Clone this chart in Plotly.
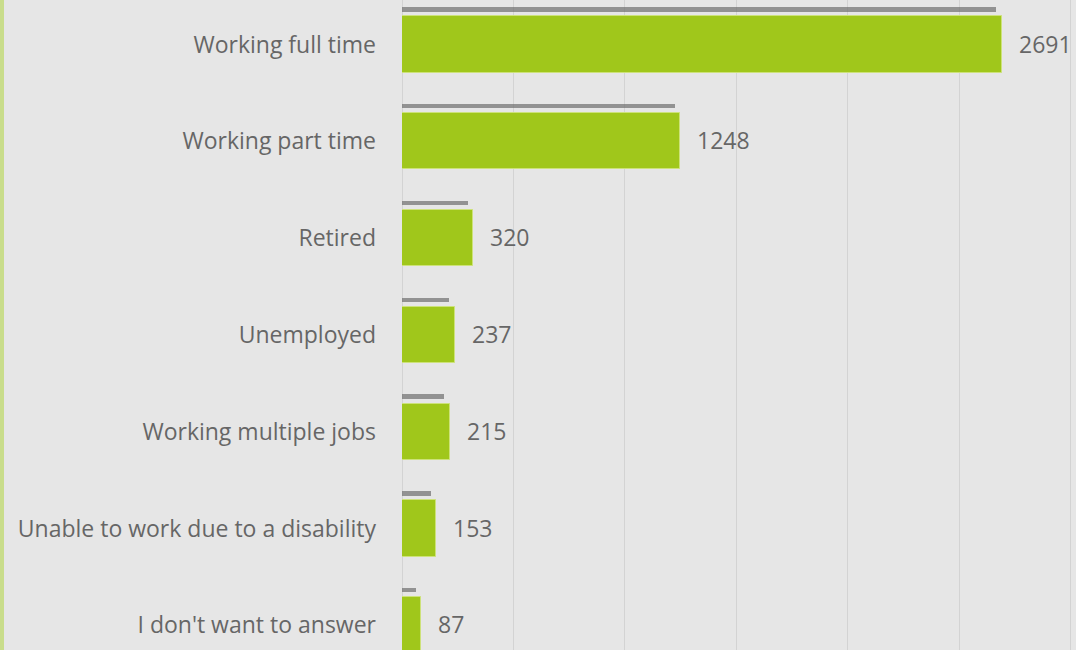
import plotly.graph_objects as go

# Employment status of respondents
categories = [
    "Working full time",
    "Working part time",
    "Retired",
    "Unemployed",
    "Working multiple jobs",
    "Unable to work due to a disability",
    "I don't want to answer",
]
counts = [2691, 1248, 320, 237, 215, 153, 87]

W, H = 1076, 650
LEFT = 402
plot_w = W - LEFT
x_max = 3025

bar_green = "#a0c71b"
text_grey = "#666666"
bg = "#e6e6e6"
font_family = "Open Sans, Lato, sans-serif"

# thin drop-shadow strip sitting above each bar
shadow_len = [max(v - 25, 20) for v in counts]

fig = go.Figure()
fig.add_trace(go.Bar(
    y=categories, x=shadow_len, orientation="h",
    width=0.045, offset=-0.385,
    marker=dict(color="rgba(110,110,110,0.7)", line=dict(width=0)),
    hoverinfo="skip", showlegend=False,
))
fig.add_trace(go.Bar(
    y=categories, x=counts, orientation="h",
    width=0.58, offset=-0.29,
    marker=dict(color=bar_green, line=dict(color="#cde27a", width=1)),
    showlegend=False,
))

for cat, v in zip(categories, counts):
    fig.add_annotation(
        x=v, y=cat, text=str(v), showarrow=False,
        xanchor="left", xshift=15, yshift=1,
        font=dict(family=font_family, size=23, color=text_grey),
    )

# pale green border at the left edge of the frame
fig.add_shape(
    type="rect", xref="paper", yref="paper",
    x0=-LEFT / plot_w, x1=-(LEFT - 4) / plot_w, y0=0, y1=1,
    fillcolor="#c9dd8c", line=dict(width=0), layer="above",
)

fig.update_layout(
    width=W, height=H,
    margin=dict(l=LEFT, r=0, t=0, b=0),
    paper_bgcolor=bg, plot_bgcolor=bg,
    bargap=0,
    xaxis=dict(
        range=[0, x_max], dtick=500, showticklabels=False,
        showgrid=True, gridcolor="#d3d3d3", gridwidth=1,
        zeroline=True, zerolinecolor="#d3d3d3", zerolinewidth=1,
        showline=False, fixedrange=True,
    ),
    yaxis=dict(
        type="category", categoryorder="array", categoryarray=categories,
        range=[6.255, -0.46],
        showgrid=False, zeroline=False, showline=False,
        ticks="", ticklabelstandoff=25,
        tickfont=dict(family=font_family, size=23, color=text_grey),
    ),
)

fig.write_html("out.html")
